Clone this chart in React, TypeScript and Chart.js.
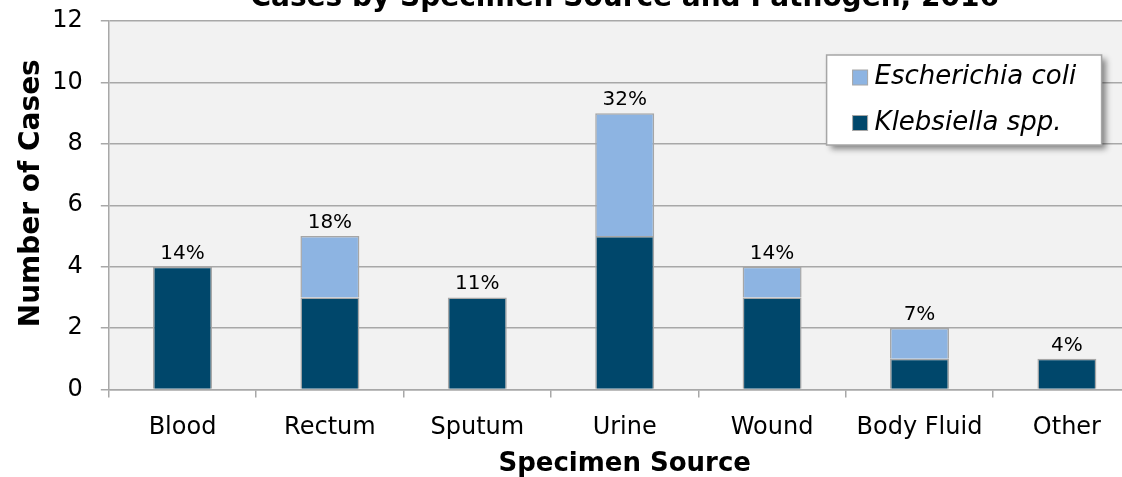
import React, { useEffect, useRef } from "react";
import { Chart, registerables } from "chart.js";

Chart.register(...registerables);

// ---- Data ----
const categories = ["Blood", "Rectum", "Sputum", "Urine", "Wound", "Body Fluid", "Other"];
const klebsiellaCases = [4, 3, 3, 5, 3, 1, 1];
const ecoliCases = [0, 2, 0, 4, 1, 1, 0];
const percentLabels = ["14%", "18%", "11%", "32%", "14%", "7%", "4%"];
const seriesNames = ["Klebsiella spp.", "Escherichia coli"];
const yTickValues = [0, 2, 4, 6, 8, 10, 12];
const chartTitle = "Cases by Specimen Source and Pathogen, 2016";
const xAxisTitle = "Specimen Source";
const yAxisTitle = "Number of Cases";

// ---- Styles ----
const FONT = "'DejaVu Sans', Verdana, sans-serif";
const DARK = "#00476B";
const LIGHT = "#8DB4E2";
const GRID = "#A8A8A8";
const BAR_BORDER = "#A6A6A6";
const PLOT_BG = "#F2F2F2";

const W = 1160;
const H = 510;
const SHIFT_TOP = 20;
const Y_AXIS_WIDTH = 108.8;
const CHART_RIGHT = 1140.6;
const CHART_BOTTOM = 389.5 + SHIFT_TOP;

const plotBgPlugin = {
  id: "plotBg",
  beforeDraw(chart: any) {
    const { ctx, chartArea } = chart;
    ctx.save();
    ctx.fillStyle = PLOT_BG;
    ctx.fillRect(chartArea.left, chartArea.top, chartArea.right - chartArea.left, chartArea.bottom - chartArea.top);
    ctx.restore();
  },
};

const yTitlePlugin = {
  id: "yTitle",
  afterDraw(chart: any) {
    const { ctx, chartArea } = chart;
    ctx.save();
    ctx.translate(31.5, (chartArea.top + chartArea.bottom) / 2 - 12);
    ctx.rotate(-Math.PI / 2);
    ctx.font = `bold 28px ${FONT}`;
    ctx.fillStyle = "#000";
    ctx.textAlign = "center";
    ctx.textBaseline = "middle";
    ctx.fillText(yAxisTitle, 0, 0);
    ctx.restore();
  },
};

const percentPlugin = {
  id: "percentLabels",
  afterDatasetsDraw(chart: any) {
    const { ctx } = chart;
    const m0 = chart.getDatasetMeta(0).data;
    const m1 = chart.getDatasetMeta(1).data;
    ctx.save();
    ctx.font = `20px ${FONT}`;
    ctx.fillStyle = "#000";
    ctx.textAlign = "center";
    ctx.textBaseline = "alphabetic";
    percentLabels.forEach((lab, i) => {
      const top = Math.min(m0[i].y, m1[i].y);
      ctx.fillText(lab, m0[i].x, top - 8);
    });
    ctx.restore();
  },
};

const legendPlugin = {
  id: "boxLegend",
  afterDraw(chart: any) {
    const { ctx, chartArea } = chart;
    const bw = 275;
    const bh = 90;
    const left = chartArea.right - 314;
    const top = chartArea.top + 34;
    ctx.save();
    ctx.shadowColor = "rgba(0,0,0,0.45)";
    ctx.shadowBlur = 6;
    ctx.shadowOffsetX = 4;
    ctx.shadowOffsetY = 4;
    ctx.fillStyle = "#FFFFFF";
    ctx.fillRect(left, top, bw, bh);
    ctx.shadowColor = "transparent";
    ctx.shadowBlur = 0;
    ctx.shadowOffsetX = 0;
    ctx.shadowOffsetY = 0;
    ctx.strokeStyle = "#A6A6A6";
    ctx.lineWidth = 1.5;
    ctx.strokeRect(left, top, bw, bh);
    const items = [
      { name: seriesNames[1], color: LIGHT },
      { name: seriesNames[0], color: DARK },
    ];
    ctx.font = `italic 26px ${FONT}`;
    ctx.textBaseline = "middle";
    ctx.textAlign = "left";
    items.forEach((it, k) => {
      const cy = top + 22.5 + k * 45.5;
      ctx.fillStyle = it.color;
      ctx.fillRect(left + 26, cy - 7.5, 15, 15);
      ctx.strokeStyle = "#A6A6A6";
      ctx.lineWidth = 1;
      ctx.strokeRect(left + 26, cy - 7.5, 15, 15);
      ctx.fillStyle = "#000";
      ctx.fillText(it.name, left + 48, cy);
    });
    ctx.restore();
  },
};

export default function App() {
  const canvasRef = useRef<HTMLCanvasElement | null>(null);

  useEffect(() => {
    if (!canvasRef.current) return;
    const zeroless = (ctx: any) => (ctx.raw === 0 ? 0 : 1.5);
    const chart = new Chart(canvasRef.current, {
      type: "bar",
      data: {
        labels: categories,
        datasets: [
          {
            label: seriesNames[0],
            data: klebsiellaCases,
            backgroundColor: DARK,
            borderColor: BAR_BORDER,
            borderWidth: zeroless,
            categoryPercentage: 1,
            barPercentage: 0.4,
          },
          {
            label: seriesNames[1],
            data: ecoliCases,
            backgroundColor: LIGHT,
            borderColor: BAR_BORDER,
            borderWidth: zeroless,
            categoryPercentage: 1,
            barPercentage: 0.4,
          },
        ],
      },
      options: {
        responsive: false,
        animation: false,
        devicePixelRatio: 1,
        layout: { padding: { left: 0, top: 0, bottom: 0, right: W - CHART_RIGHT } },
        plugins: {
          legend: { display: false },
          tooltip: { enabled: false },
          title: {
            display: true,
            text: chartTitle,
            fullSize: false,
            color: "#000",
            font: { family: FONT, size: 28, weight: "bold" },
            padding: { top: 2, bottom: 5.4 },
          },
        },
        scales: {
          x: {
            stacked: true,
            offset: true,
            grid: {
              display: true,
              drawOnChartArea: false,
              drawTicks: true,
              tickLength: 8,
              color: GRID,
              lineWidth: 1.5,
              offset: true,
            },
            border: { display: true, color: GRID, width: 1.5 },
            ticks: {
              color: "#000",
              padding: 16,
              maxRotation: 0,
              autoSkip: false,
              font: { family: FONT, size: 24 },
            },
            title: {
              display: true,
              text: xAxisTitle,
              color: "#000",
              font: { family: FONT, size: 26, weight: "bold" },
              padding: { top: 0, bottom: 10 },
            },
            afterFit: (scale: any) => {
              scale.height = H - CHART_BOTTOM;
            },
          },
          y: {
            stacked: true,
            min: 0,
            max: 12,
            afterBuildTicks: (scale: any) => {
              scale.ticks = yTickValues.map((v) => ({ value: v }));
            },
            grid: {
              color: GRID,
              lineWidth: 1.5,
              drawTicks: true,
              tickLength: 8,
            },
            border: { display: true, color: GRID, width: 1.5 },
            ticks: {
              color: "#000",
              padding: 18,
              font: { family: FONT, size: 24 },
            },
            title: { display: false, text: yAxisTitle },
            afterFit: (scale: any) => {
              scale.width = Y_AXIS_WIDTH;
            },
          },
        },
      },
      plugins: [plotBgPlugin, percentPlugin, legendPlugin, yTitlePlugin],
    });
    return () => chart.destroy();
  }, []);

  return (
    <div
      style={{
        position: "fixed",
        left: 0,
        top: 0,
        width: 1122,
        height: 477,
        overflow: "hidden",
        background: "#fff",
      }}
    >
      <div style={{ position: "absolute", left: 0, top: -SHIFT_TOP, width: W, height: H }}>
        <canvas ref={canvasRef} width={W} height={H} style={{ width: W, height: H, display: "block" }} />
      </div>
    </div>
  );
}
